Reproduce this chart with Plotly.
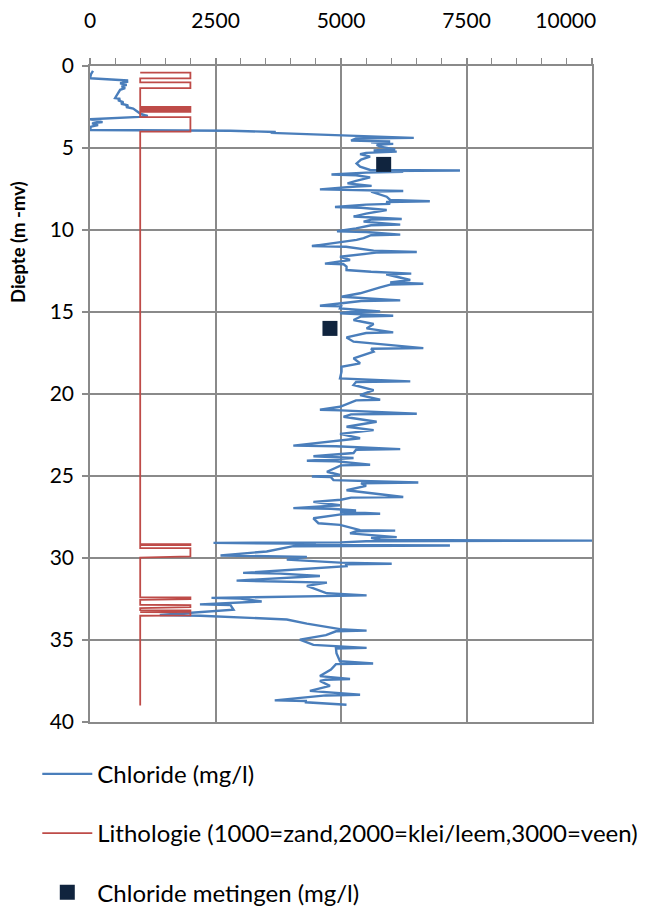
import plotly.graph_objects as go

# Chloride profile (mg/l) vs depth (m -mv)
chloride_depth = [
    0.3, 0.5, 0.75, 0.8, 0.88, 0.92, 0.95, 1.05, 1.15, 1.25,
    1.35, 1.45, 1.6, 1.8, 1.95, 2.0, 2.1, 2.2, 2.3, 2.4,
    2.5, 2.6, 2.7, 2.8, 2.9, 3.05, 3.1, 3.25, 3.35, 3.42,
    3.5, 3.6, 3.7, 3.9, 3.95, 4.02, 4.08, 4.15, 4.25, 4.38,
    4.42, 4.55, 4.6, 4.65, 4.75, 4.81, 4.92, 5.08, 5.15, 5.22,
    5.3, 5.37, 5.53, 5.7, 5.94, 6.14, 6.34, 6.37, 6.41, 6.45,
    6.5, 6.62, 6.66, 6.79, 7.0, 7.16, 7.31, 7.35, 7.52, 7.56,
    7.62, 7.66, 7.97, 8.17, 8.25, 8.29, 8.41, 8.45, 8.6, 8.64,
    8.78, 9.0, 9.18, 9.33, 9.37, 9.49, 9.67, 9.71, 9.9, 10.08,
    10.12, 10.28, 10.32, 10.5, 10.6, 10.98, 11.02, 11.26, 11.34, 11.38,
    11.63, 11.83, 12.05, 12.09, 12.23, 12.44, 12.55, 12.66, 12.7, 13.05,
    13.2, 13.28, 13.32, 13.5, 13.86, 14.07, 14.29, 14.33, 14.62, 14.66,
    14.78, 14.96, 15.0, 15.08, 15.23, 15.27, 15.49, 15.73, 16.0, 16.24,
    16.28, 16.55, 16.81, 17.2, 17.24, 17.42, 17.83, 18.13, 18.34, 18.64,
    19.05, 19.23, 19.27, 19.45, 19.76, 20.07, 20.35, 20.39, 20.78, 20.96,
    21.0, 21.2, 21.24, 21.39, 21.69, 22.0, 22.2, 22.43, 22.7, 23.15,
    23.19, 23.36, 23.4, 23.6, 23.8, 23.9, 24.07, 24.1, 24.31, 24.35,
    24.74, 24.94, 25.03, 25.07, 25.25, 25.4, 25.44, 25.6, 25.87, 26.28,
    26.32, 26.45, 26.58, 26.78, 26.96, 27.0, 27.1, 27.18, 27.3, 27.34,
    27.58, 27.88, 27.98, 28.3, 28.33, 28.37, 28.5, 28.73, 28.77, 28.9,
    28.94, 28.98, 29.05, 29.08, 29.12, 29.2, 29.24, 29.28, 29.6, 29.85,
    29.93, 30.1, 30.28, 30.35, 30.39, 30.5, 30.91, 30.95, 31.1, 31.38,
    31.42, 31.5, 31.7, 32.15, 32.28, 32.32, 32.43, 32.47, 32.65, 32.83,
    32.87, 33.16, 33.48, 33.52, 33.6, 33.75, 34.0, 34.34, 34.43, 34.47,
    34.7, 34.98, 35.3, 35.48, 35.52, 35.8, 36.3, 36.43, 36.47, 36.8,
    37.2, 37.38, 37.42, 37.5, 37.8, 38.1, 38.34, 38.38, 38.68, 38.72,
    38.8, 38.95,
]
chloride_value = [
    60, 20, 0, 400, 760, 640, 760, 600, 730, 630,
    700, 600, 565, 520, 500, 600, 560, 665, 620, 760,
    720, 860, 900, 940, 1000, 1150, 980, 0, 120, 250,
    40, 160, 20, 0, 2800, 3700, 3600, 4200, 4950, 6450,
    5300, 5200, 5980, 5600, 6040, 5710, 5780, 6080, 5650, 6110,
    5500, 5380, 5580, 5400, 5310, 5380, 5580, 7370, 5700, 6240,
    5500, 4810, 5300, 5580, 5300, 5130, 5610, 5300, 4580, 5300,
    6240, 5600, 5910, 5980, 6770, 5900, 5980, 5500, 4880, 5400,
    5910, 5500, 5250, 6210, 5600, 5450, 6180, 5600, 5300, 4920,
    5500, 6180, 5600, 5450, 5310, 4420, 5100, 5650, 6510, 5700,
    4980, 5180, 4680, 5050, 5110, 5110, 5600, 6400, 5900, 6380,
    5980, 6640, 6000, 5780, 5380, 5010, 6180, 5400, 4580, 5000,
    4980, 5780, 5200, 4980, 6040, 5400, 5250, 5650, 5510, 6040,
    5500, 5110, 5250, 6640, 5600, 5650, 5250, 5380, 5010, 5010,
    4980, 6380, 5300, 5250, 5650, 5380, 5780, 5300, 4980, 4580,
    5000, 6510, 5200, 5050, 5710, 5110, 5650, 4980, 5380, 4050,
    4900, 6180, 5300, 5250, 4450, 5250, 4320, 4900, 5580, 5000,
    4720, 4980, 4420, 4800, 4850, 6540, 5400, 5500, 5110, 6240,
    5200, 5000, 4450, 4980, 4050, 4800, 5300, 4980, 5780, 5000,
    4450, 4550, 4980, 5380, 6080, 5300, 5180, 6110, 5600, 5780,
    10000, 5500, 5000, 2460, 4000, 4500, 7170, 4050, 3520, 2600,
    4320, 3920, 4980, 6010, 5100, 5110, 3050, 3800, 4580, 2920,
    3800, 4720, 4320, 4720, 5510, 4500, 2420, 3000, 3420, 2190,
    2800, 2860, 1390, 2200, 2860, 3920, 4320, 4980, 5510, 4900,
    4700, 4180, 4450, 5510, 4900, 4910, 4980, 5640, 4900, 4800,
    4580, 5180, 4700, 4580, 4780, 4380, 5380, 4700, 3680, 4300,
    4300, 5110,
]

# Lithology code (1000=zand, 2000=klei/leem, 3000=veen) vs depth
litho_depth = [0.41, 0.41, 0.75, 0.75, 1.0, 1.0, 1.35, 1.35,
               2.5, 2.5, 2.56, 2.56, 2.62, 2.62, 2.68, 2.68, 2.74, 2.74, 2.8, 2.8,
               3.12, 3.12, 4.0, 4.0,
               29.15, 29.15, 29.22, 29.22, 29.4, 29.4, 29.9, 29.97,
               32.4, 32.4, 32.5, 32.55, 32.85, 32.87, 33.0, 33.05,
               33.18, 33.2, 33.25, 33.27, 33.3, 33.32, 33.5, 33.52,
               39.0]
litho_value = [1000, 2000, 2000, 1000] * 12 + [1000]

# Discrete chloride measurements
meting_depth = [6.0, 16.0]
meting_value = [5850, 4780]

x_ticks = [0, 2500, 5000, 7500, 10000]
x_ticktext = ["0", "2500", "5000", "7500", "10000\u2002\u2002\u2002\u2002\u2002"]
y_ticks = [0, 5, 10, 15, 20, 25, 30, 35, 40]

FONT = "Lato"
GRID = "#8a8a8a"

fig = go.Figure()
fig.add_trace(go.Scatter(x=chloride_value, y=chloride_depth, mode="lines",
                         name="Chloride (mg/l)", legendgroup="a",
                         line=dict(color="#4a7ebb", width=2.4)))
fig.add_trace(go.Scatter(x=litho_value, y=litho_depth, mode="lines",
                         name="Lithologie (1000=zand,2000=klei/leem,3000=veen)", legendgroup="b",
                         line=dict(color="#be4b48", width=1.8)))
fig.add_trace(go.Scatter(x=meting_value, y=meting_depth, mode="markers",
                         name="Chloride metingen (mg/l)", legendgroup="c",
                         marker=dict(symbol="square", size=15, color="#10243e",
                                     line=dict(width=0))))

fig.update_layout(
    width=646, height=898,
    margin=dict(l=82, r=62, t=58, b=184, autoexpand=False),
    paper_bgcolor="white", plot_bgcolor="white",
    font=dict(family=FONT, size=21, color="#000000"),
    showlegend=True,
    legend=dict(x=-0.105, xanchor="left", y=-0.0454, yanchor="top",
                orientation="v", tracegroupgap=25,
                font=dict(family=FONT, size=24, color="#000000"),
                bgcolor="rgba(0,0,0,0)", itemwidth=50),
    xaxis=dict(side="top", range=[0, 10000], tickvals=x_ticks,
               ticktext=x_ticktext, automargin=False,
               ticks="outside", ticklen=6, tickcolor=GRID, tickwidth=1.5,
               showgrid=True, gridcolor=GRID, gridwidth=1.5,
               showline=True, linecolor=GRID, linewidth=1.5, mirror=True,
               zeroline=False, ticklabelstandoff=22,
               minor=dict(dtick=500, ticks="outside", ticklen=6, tickcolor=GRID,
                          tickwidth=1.2, showgrid=False),
               tickfont=dict(family=FONT, size=21)),
    yaxis=dict(range=[40, 0], tickvals=y_ticks, automargin=False,
               ticks="outside", ticklen=6, tickcolor=GRID, tickwidth=1.5,
               showgrid=True, gridcolor=GRID, gridwidth=1.5,
               showline=True, linecolor=GRID, linewidth=1.5, mirror=True,
               zeroline=False, ticklabelstandoff=4,
               tickfont=dict(family=FONT, size=21)),
    annotations=[dict(text="<b>Diepte (m -mv)</b>", xref="paper", yref="paper",
                      x=-0.143, y=0.732, xanchor="center", yanchor="middle",
                      textangle=-90, showarrow=False,
                      font=dict(family=FONT, size=18.5, color="#000000"))],
)

fig.write_html("out.html")
